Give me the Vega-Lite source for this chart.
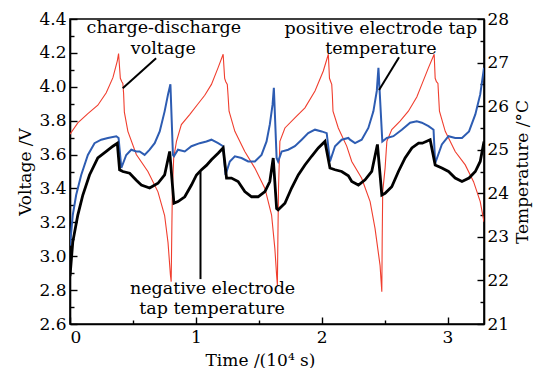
{
  "$schema": "https://vega.github.io/schema/vega-lite/v6.json",
  "autosize": "none",
  "width": 414,
  "height": 305,
  "padding": {"left": 70, "top": 19, "right": 64, "bottom": 44},
  "background": "white",
  "config": {
    "font": "DejaVu Serif",
    "view": {"stroke": "#000", "strokeWidth": 1.6},
    "axis": {
      "domainColor": "#000", "domainWidth": 1.6, "tickColor": "#000", "tickWidth": 1.4,
      "labelColor": "#000", "titleColor": "#000", "labelFontSize": 17, "titleFontSize": 17,
      "titleFontWeight": "normal", "labelFont": "DejaVu Serif", "titleFont": "DejaVu Serif", "grid": false
    },
    "text": {"font": "DejaVu Serif"}
  },
  "datasets": {
    "voltage": [
      {"t":0,"v":3.72},{"t":0.062,"v":3.787},{"t":0.142,"v":3.842},{"t":0.221,"v":3.891},{"t":0.288,"v":3.965},{"t":0.341,"v":4.054},{"t":0.376,"v":4.153},{"t":0.386,"v":4.196},{"t":0.4,"v":4.05},{"t":0.412,"v":4.03},{"t":0.42,"v":4.02},{"t":0.426,"v":3.96},{"t":0.432,"v":3.85},{"t":0.46,"v":3.737},{"t":0.527,"v":3.6},{"t":0.619,"v":3.5},{"t":0.699,"v":3.38},{"t":0.752,"v":3.24},{"t":0.779,"v":3.08},{"t":0.798,"v":2.89},{"t":0.804,"v":2.85},{"t":0.81,"v":3.2},{"t":0.814,"v":3.4},{"t":0.824,"v":3.58},{"t":0.846,"v":3.678},{"t":0.885,"v":3.777},{"t":0.951,"v":3.836},{"t":1.018,"v":3.9},{"t":1.071,"v":3.95},{"t":1.124,"v":4.014},{"t":1.177,"v":4.113},{"t":1.217,"v":4.192},{"t":1.229,"v":4.05},{"t":1.238,"v":4.03},{"t":1.25,"v":4.014},{"t":1.256,"v":3.95},{"t":1.264,"v":3.856},{"t":1.31,"v":3.737},{"t":1.389,"v":3.618},{"t":1.469,"v":3.52},{"t":1.549,"v":3.4},{"t":1.602,"v":3.243},{"t":1.628,"v":3.045},{"t":1.642,"v":2.887},{"t":1.648,"v":2.83},{"t":1.652,"v":3.1},{"t":1.657,"v":3.4},{"t":1.668,"v":3.678},{"t":1.708,"v":3.757},{"t":1.787,"v":3.816},{"t":1.867,"v":3.876},{"t":1.947,"v":3.975},{"t":2.013,"v":4.093},{"t":2.053,"v":4.192},{"t":2.062,"v":4.05},{"t":2.072,"v":4.03},{"t":2.08,"v":4.014},{"t":2.085,"v":3.95},{"t":2.09,"v":3.856},{"t":2.132,"v":3.757},{"t":2.199,"v":3.65},{"t":2.239,"v":3.559},{"t":2.318,"v":3.46},{"t":2.385,"v":3.322},{"t":2.424,"v":3.164},{"t":2.464,"v":2.946},{"t":2.478,"v":2.79},{"t":2.481,"v":3.1},{"t":2.485,"v":3.38},{"t":2.504,"v":3.52},{"t":2.518,"v":3.678},{"t":2.557,"v":3.747},{"t":2.623,"v":3.797},{"t":2.689,"v":3.856},{"t":2.756,"v":3.94},{"t":2.796,"v":4.014},{"t":2.849,"v":4.113},{"t":2.894,"v":4.192},{"t":2.902,"v":4.05},{"t":2.912,"v":4.03},{"t":2.924,"v":4.02},{"t":2.929,"v":3.95},{"t":2.936,"v":3.856},{"t":2.982,"v":3.737},{"t":3.061,"v":3.618},{"t":3.141,"v":3.539},{"t":3.207,"v":3.44},{"t":3.26,"v":3.322},{"t":3.29,"v":3.203}
    ],
    "positive": [
      {"t":0,"T":22.8},{"t":0.022,"T":23.5},{"t":0.049,"T":23.96},{"t":0.089,"T":24.42},{"t":0.142,"T":24.88},{"t":0.195,"T":25.15},{"t":0.248,"T":25.23},{"t":0.301,"T":25.27},{"t":0.368,"T":25.31},{"t":0.386,"T":25.27},{"t":0.408,"T":24.58},{"t":0.447,"T":24.88},{"t":0.487,"T":25.0},{"t":0.527,"T":24.96},{"t":0.553,"T":24.96},{"t":0.593,"T":24.88},{"t":0.633,"T":25.0},{"t":0.673,"T":25.15},{"t":0.713,"T":25.42},{"t":0.752,"T":25.88},{"t":0.779,"T":26.27},{"t":0.798,"T":26.5},{"t":0.818,"T":24.88},{"t":0.826,"T":24.85},{"t":0.858,"T":25.0},{"t":0.912,"T":24.96},{"t":0.965,"T":25.08},{"t":1.031,"T":25.15},{"t":1.084,"T":25.19},{"t":1.124,"T":25.23},{"t":1.177,"T":25.15},{"t":1.217,"T":25.08},{"t":1.236,"T":24.42},{"t":1.27,"T":24.73},{"t":1.31,"T":24.85},{"t":1.363,"T":24.81},{"t":1.416,"T":24.73},{"t":1.469,"T":24.73},{"t":1.522,"T":24.88},{"t":1.562,"T":25.19},{"t":1.588,"T":25.58},{"t":1.61,"T":26.04},{"t":1.62,"T":26.42},{"t":1.642,"T":24.81},{"t":1.654,"T":24.73},{"t":1.682,"T":24.96},{"t":1.734,"T":25.0},{"t":1.787,"T":25.08},{"t":1.841,"T":25.23},{"t":1.893,"T":25.38},{"t":1.947,"T":25.46},{"t":2.0,"T":25.42},{"t":2.04,"T":25.38},{"t":2.066,"T":24.73},{"t":2.106,"T":25.08},{"t":2.159,"T":25.23},{"t":2.212,"T":25.27},{"t":2.225,"T":25.23},{"t":2.265,"T":25.15},{"t":2.318,"T":25.23},{"t":2.371,"T":25.5},{"t":2.411,"T":25.88},{"t":2.438,"T":26.35},{"t":2.451,"T":26.88},{"t":2.482,"T":25.19},{"t":2.518,"T":25.27},{"t":2.57,"T":25.31},{"t":2.637,"T":25.46},{"t":2.703,"T":25.62},{"t":2.756,"T":25.65},{"t":2.796,"T":25.62},{"t":2.849,"T":25.54},{"t":2.889,"T":25.46},{"t":2.902,"T":24.69},{"t":2.955,"T":25.12},{"t":3.008,"T":25.31},{"t":3.061,"T":25.27},{"t":3.115,"T":25.27},{"t":3.171,"T":25.42},{"t":3.221,"T":25.81},{"t":3.26,"T":26.27},{"t":3.29,"T":26.88}
    ],
    "negative": [
      {"t":0,"T":22.1},{"t":0.022,"T":22.88},{"t":0.062,"T":23.5},{"t":0.102,"T":23.96},{"t":0.155,"T":24.42},{"t":0.221,"T":24.81},{"t":0.288,"T":24.96},{"t":0.341,"T":25.08},{"t":0.376,"T":25.15},{"t":0.394,"T":24.54},{"t":0.42,"T":24.5},{"t":0.474,"T":24.46},{"t":0.527,"T":24.3},{"t":0.567,"T":24.19},{"t":0.633,"T":24.12},{"t":0.699,"T":24.23},{"t":0.752,"T":24.42},{"t":0.792,"T":24.96},{"t":0.826,"T":23.77},{"t":0.858,"T":23.81},{"t":0.912,"T":23.92},{"t":0.965,"T":24.19},{"t":1.005,"T":24.42},{"t":1.045,"T":24.54},{"t":1.084,"T":24.64},{"t":1.124,"T":24.77},{"t":1.177,"T":24.92},{"t":1.217,"T":25.04},{"t":1.244,"T":24.35},{"t":1.283,"T":24.35},{"t":1.336,"T":24.27},{"t":1.389,"T":24.04},{"t":1.443,"T":23.92},{"t":1.495,"T":23.92},{"t":1.549,"T":24.04},{"t":1.588,"T":24.27},{"t":1.615,"T":24.81},{"t":1.642,"T":23.65},{"t":1.654,"T":23.62},{"t":1.708,"T":23.77},{"t":1.761,"T":24.12},{"t":1.814,"T":24.42},{"t":1.867,"T":24.65},{"t":1.92,"T":24.85},{"t":1.973,"T":25.04},{"t":2.026,"T":25.19},{"t":2.066,"T":24.58},{"t":2.106,"T":24.54},{"t":2.159,"T":24.5},{"t":2.212,"T":24.4},{"t":2.239,"T":24.27},{"t":2.292,"T":24.19},{"t":2.345,"T":24.31},{"t":2.398,"T":24.5},{"t":2.443,"T":25.12},{"t":2.478,"T":23.96},{"t":2.504,"T":24.0},{"t":2.557,"T":24.15},{"t":2.61,"T":24.5},{"t":2.663,"T":24.81},{"t":2.717,"T":25.04},{"t":2.77,"T":25.15},{"t":2.8,"T":25.15},{"t":2.862,"T":25.23},{"t":2.902,"T":24.65},{"t":2.955,"T":24.58},{"t":3.008,"T":24.5},{"t":3.061,"T":24.35},{"t":3.115,"T":24.27},{"t":3.171,"T":24.35},{"t":3.221,"T":24.5},{"t":3.26,"T":24.73},{"t":3.29,"T":25.19}
    ],
    "leaders": [
      {"t":0.419,"v":3.991,"t2":0.684,"v2":4.168},
      {"t":2.456,"v":3.981,"t2":2.615,"v2":4.174},
      {"t":1.037,"v":3.497,"t2":1.037,"v2":2.865}
    ],
    "labels": [
      {"t":0.746,"v":4.316,"label":"charge-discharge"},
      {"t":0.742,"v":4.193,"label":"voltage"},
      {"t":2.47,"v":4.31,"label":"positive electrode tap"},
      {"t":2.47,"v":4.192,"label":"temperature"},
      {"t":1.133,"v":2.777,"label":"negative electrode"},
      {"t":1.129,"v":2.659,"label":"tap temperature"}
    ]
  },
  "layer": [
    {
      "data": {"name": "voltage"},
      "mark": {"type": "line", "color": "#f03e2e", "strokeWidth": 1.1, "clip": true},
      "encoding": {
        "x": {"field": "t", "type": "quantitative",
          "scale": {"domain": [0, 3.29], "nice": false, "zero": false},
          "axis": {"title": "Time /(10⁴ s)", "values": [0, 0.5, 1, 1.5, 2, 2.5, 3],
            "labelExpr": "datum.value % 1 === 0 ? format(datum.value, 'd') : ''",
            "tickSize": {"condition": {"test": "datum.value % 1 === 0", "value": -7}, "value": -4},
            "labelPadding": 12, "titleX": 190, "titleY": 41, "titleBaseline": "alphabetic"}},
        "y": {"field": "v", "type": "quantitative",
          "scale": {"domain": [2.6, 4.4], "nice": false, "zero": false},
          "axis": {"title": "Voltage /V", "orient": "left",
            "values": [2.6, 2.7, 2.8, 2.9, 3.0, 3.1, 3.2, 3.3, 3.4, 3.5, 3.6, 3.7, 3.8, 3.9, 4.0, 4.1, 4.2, 4.3, 4.4],
            "labelExpr": "abs(datum.value*5 - round(datum.value*5)) < 0.001 ? format(datum.value, '.1f') : ''",
            "tickSize": {"condition": {"test": "abs(datum.value*5 - round(datum.value*5)) < 0.001", "value": -7}, "value": -4},
            "labelPadding": 11, "titlePadding": 4}}
      }
    },
    {
      "data": {"name": "positive"},
      "mark": {"type": "line", "color": "#2d5cb2", "strokeWidth": 2, "clip": true},
      "encoding": {
        "x": {"field": "t", "type": "quantitative"},
        "y": {"field": "T", "type": "quantitative",
          "scale": {"domain": [21, 28], "nice": false, "zero": false},
          "axis": {"title": "Temperature /°C", "orient": "right",
            "values": [21, 21.5, 22, 22.5, 23, 23.5, 24, 24.5, 25, 25.5, 26, 26.5, 27, 27.5, 28],
            "labelExpr": "datum.value % 1 === 0 ? format(datum.value, 'd') : ''",
            "tickSize": {"condition": {"test": "datum.value % 1 === 0", "value": -7}, "value": -4},
            "labelPadding": 10, "titlePadding": 6, "titleAngle": 270, "titleBaseline": "top"}}
      }
    },
    {
      "data": {"name": "negative"},
      "mark": {"type": "line", "color": "#000", "strokeWidth": 2.8, "clip": true},
      "encoding": {
        "x": {"field": "t", "type": "quantitative"},
        "y": {"field": "T", "type": "quantitative", "scale": {"domain": [21, 28], "nice": false, "zero": false}, "axis": null}
      }
    },
    {
      "data": {"name": "leaders"},
      "mark": {"type": "rule", "color": "#000", "strokeWidth": 2},
      "encoding": {
        "x": {"field": "t", "type": "quantitative"},
        "x2": {"field": "t2"},
        "y": {"field": "v", "type": "quantitative", "scale": {"domain": [2.6, 4.4], "nice": false, "zero": false}, "axis": null},
        "y2": {"field": "v2"}
      }
    },
    {
      "data": {"name": "labels"},
      "mark": {"type": "text", "align": "center", "baseline": "alphabetic", "fontSize": 17.5, "color": "#000", "font": "DejaVu Serif"},
      "encoding": {
        "x": {"field": "t", "type": "quantitative"},
        "y": {"field": "v", "type": "quantitative", "scale": {"domain": [2.6, 4.4], "nice": false, "zero": false}, "axis": null},
        "text": {"field": "label", "type": "nominal"}
      }
    }
  ],
  "resolve": {"scale": {"y": "independent"}, "axis": {"y": "independent"}}
}
